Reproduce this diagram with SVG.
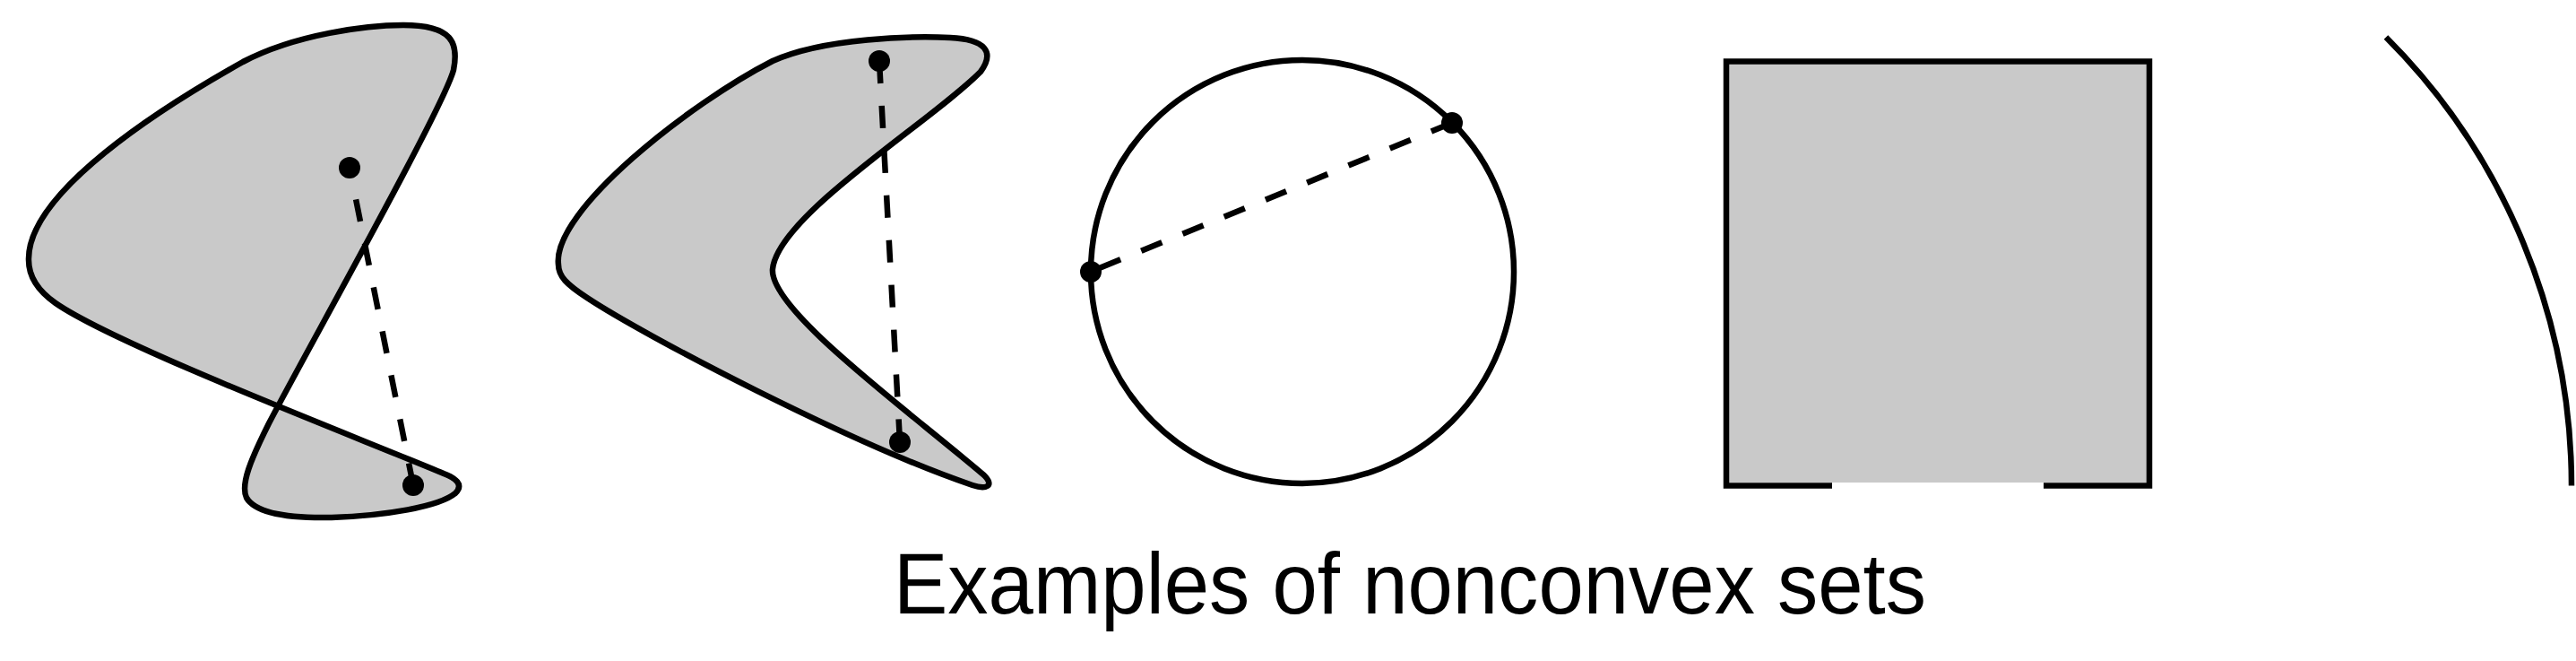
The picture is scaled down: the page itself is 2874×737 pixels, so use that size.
<svg xmlns="http://www.w3.org/2000/svg" width="2874" height="737" viewBox="0 0 2874 737">
<style>
.shape{fill:#c9c9c9;stroke:#000;stroke-width:6.5;stroke-linejoin:round}
.line{fill:none;stroke:#000;stroke-width:6.5}
.dash{fill:none;stroke:#000;stroke-width:6.5;stroke-dasharray:25 25}
.dot{fill:#000}
.caption{font-family:"Liberation Sans",Arial,sans-serif;font-size:96px;fill:#000}
</style>
<rect width="2874" height="737" fill="#fff"/>
<g id="set1">
<path class="shape" d="M 32,290 C 30,215 180,120 271,69 C 330,38 410,28 450,28 C 505,28 512,48 506,78 C 495,120 340,395 300,472 C 280,512 268,540 275,555 C 285,572 320,578 370,577 C 430,575 490,565 508,550 C 518,540 508,533 495,528 C 400,488 130,385 62,338 C 42,324 32,308 32,290 Z"/>
</g>
<g id="set2">
<path class="shape" d="M 623,295 C 616,235 770,115 862,68 C 920,42 1020,40 1060,42 C 1100,44 1110,58 1094,80 C 1040,135 868,240 862,300 C 858,345 1010,455 1098,530 C 1110,542 1100,546 1085,541 C 950,495 720,375 655,332 C 632,317 623,308 623,295 Z"/>
</g>
<g id="set3">
<circle class="line" cx="1453" cy="303" r="236"/>
</g>
<g id="set4">
<rect x="1926" y="68.5" width="472" height="469.5" fill="#c9c9c9"/>
<path class="line" style="stroke-linejoin:miter" d="M 2044,541.5 H 1926 V 68.5 H 2398 V 541.5 H 2280"/>
</g>
<g id="set5">
<path class="line" d="M 2662,41.5 A 707 707 0 0 1 2869,541.5"/>
</g>
<g id="connectors">
<path class="dash" d="M 461,541 L 390,187"/>
<path class="dash" d="M 981,68 L 1004,493"/>
<path class="dash" d="M 1620,137 L 1217,303"/>
</g>
<g id="points">
<circle class="dot" cx="390" cy="187" r="12"/>
<circle class="dot" cx="461" cy="541" r="12"/>
<circle class="dot" cx="981" cy="68" r="12"/>
<circle class="dot" cx="1004" cy="493" r="12"/>
<circle class="dot" cx="1217" cy="303" r="12"/>
<circle class="dot" cx="1620" cy="137" r="12"/>
</g>
<g id="caption">
<text class="caption" x="997" y="684" textLength="1152" lengthAdjust="spacingAndGlyphs">Examples of nonconvex sets</text>
</g>
</svg>
